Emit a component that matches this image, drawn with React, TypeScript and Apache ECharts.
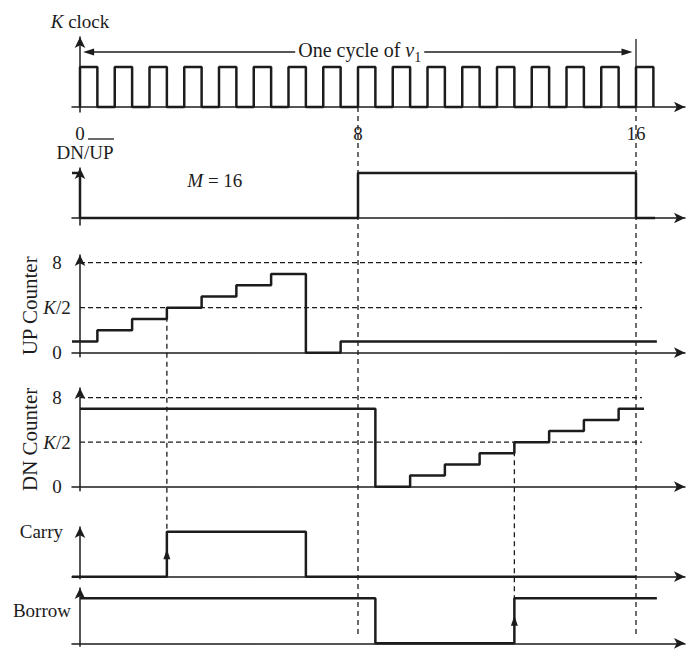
import React, { useEffect, useRef } from 'react';
import * as echarts from 'echarts';

// ---------------- data ----------------
const X_MIN = -0.23;
const X_MAX = 17.41;

const clockTickLabels = [0, 8, 16];
const clockRiseTimes = [0, 1, 2, 3, 4, 5, 6, 7, 8, 9, 10, 11, 12, 13, 14, 15, 16];
const clockFallTimes = [0.5, 1.5, 2.5, 3.5, 4.5, 5.5, 6.5, 7.5, 8.5, 9.5, 10.5, 11.5, 12.5, 13.5, 14.5, 15.5, 16.5];

const dnUpTimes = [-0.23, 0, 8, 16, 16.55];
const dnUpLevels = [1, 0, 1, 0, 0];

const upCounterTimes = [-0.23, 0.5, 1.5, 2.5, 3.5, 4.5, 5.5, 6.5, 7.5, 16.6];
const upCounterLevels = [1, 2, 3, 4, 5, 6, 7, 0, 1, 1];

const dnCounterTimes = [0, 8.5, 9.5, 10.5, 11.5, 12.5, 13.5, 14.5, 15.5, 16.23];
const dnCounterLevels = [7, 0, 1, 2, 3, 4, 5, 6, 7, 7];

const carryTimes = [-0.23, 2.5, 6.5, 16];
const carryLevels = [0, 1, 0, 0];

const borrowTimes = [0, 8.5, 12.5, 16.6];
const borrowLevels = [1, 0, 1, 1];

const counterTickValues = [0, 4, 8]; // 0, K/2, 8
const counterRefLevels = [8, 4];
const counterRefEnd = 16.17;

const cycleMarkTimes = [8, 16];
const carryGuideTime = 2.5;
const borrowGuideTime = 12.5;
const carryEdgeMarker = [2.5, 0.5];
const borrowEdgeMarker = [12.5, 0.5];

// ---------------- layout / style ----------------
const INK = '#1c1c1c';
const FONT = '"Liberation Serif", "Times New Roman", serif';

const panels = [
  { B: 107, U: 40, T: 37, E: 5 },
  { B: 218, U: 45, T: 168, E: 7 },
  { B: 352.7, U: 11.25, T: 255, E: 4 },
  { B: 486.7, U: 11.125, T: 388, E: 4 },
  { B: 576.7, U: 45, T: 527, E: 2 },
  { B: 643.3, U: 45, T: 588, E: 3 },
];

const axisLineStyle = { color: INK, width: 1.5 };

export default function App() {
  const ref = useRef<HTMLDivElement>(null);

  useEffect(() => {
    const el = ref.current!;
    const chart = echarts.init(el, null, { renderer: 'svg' });

    const grids = panels.map((p) => ({
      left: 72,
      right: 9,
      top: p.T,
      height: p.B - p.T + p.E,
      containLabel: false,
      outerBoundsMode: 'none',
    }));

    const xAxes = panels.map((_, i) => ({
      type: 'value',
      gridIndex: i,
      min: X_MIN,
      max: X_MAX,
      axisLine: { show: true, onZero: true, symbol: ['none', 'arrow'], symbolSize: [8, 11], lineStyle: axisLineStyle },
      axisTick: { show: false },
      splitLine: { show: false },
      axisLabel:
        i === 0
          ? { customValues: clockTickLabels, margin: 12, fontFamily: FONT, fontSize: 19, color: INK }
          : { show: false },
    }));

    const nameRich = { k: { fontStyle: 'italic', fontFamily: FONT, fontSize: 19, color: INK } };

    const yAxes = panels.map((p, i) => {
      const base: any = {
        type: 'value',
        gridIndex: i,
        min: -p.E / p.U,
        max: (p.B - p.T) / p.U,
        axisLine: { show: true, onZero: true, symbol: ['none', 'arrow'], symbolSize: [8, 11], lineStyle: axisLineStyle },
        axisTick: { show: false },
        splitLine: { show: false },
        axisLabel: { show: false },
        nameMoveOverlap: false,
      };
      if (i === 2 || i === 3) {
        base.axisLabel = {
          show: true,
          customValues: counterTickValues,
          margin: 15,
          align: 'center',
          fontFamily: FONT,
          fontSize: 19,
          color: INK,
          formatter: (v: number) => (v === 4 ? '{k|K}/2' : String(v)),
          rich: nameRich,
        };
        base.name = i === 2 ? 'UP Counter' : 'DN Counter';
        base.nameLocation = 'middle';
        base.nameGap = 32;
        base.nameTextStyle = { fontFamily: FONT, fontSize: 21, color: INK };
      }
      if (i === 0) {
        base.name = '{k|K} clock';
        base.nameLocation = 'end';
        base.nameGap = 6;
        base.nameTextStyle = { fontFamily: FONT, fontSize: 19, color: INK, rich: nameRich };
      }
      if (i === 1) {
        base.name = 'DN/UP';
        base.nameLocation = 'end';
        base.nameGap = 6;
        base.nameTextStyle = { fontFamily: FONT, fontSize: 19, color: INK, padding: [0, 0, 0, 10] };
      }
      return base;
    });

    const pairs = (times: number[], levels: number[]) => times.map((t, i) => [t, levels[i]]);
    const clockData: number[][] = [[clockRiseTimes[0], 0]];
    clockRiseTimes.forEach((t, i) => {
      clockData.push([t, 1]);
      clockData.push([clockFallTimes[i], 0]);
    });

    const step = (g: number, data: number[][], extra: any = {}) => ({
      type: 'line',
      xAxisIndex: g,
      yAxisIndex: g,
      step: 'end',
      symbol: 'none',
      data,
      lineStyle: { color: INK, width: 2.5 },
      z: 3,
      silent: true,
      ...extra,
    });

    const refLine = (g: number, level: number) => ({
      type: 'line',
      xAxisIndex: g,
      yAxisIndex: g,
      symbol: 'none',
      data: [
        [0, level],
        [counterRefEnd, level],
      ],
      lineStyle: { color: INK, width: 1.3, type: [5, 3] },
      z: 2,
      silent: true,
    });

    const edgeMarker = (coord: number[]) => ({
      symbol: 'triangle',
      symbolSize: [7, 10],
      itemStyle: { color: INK },
      label: { show: false },
      data: [{ coord }],
    });

    const series: any[] = [
      step(0, clockData),
      step(1, pairs(dnUpTimes, dnUpLevels)),
      ...counterRefLevels.map((l) => refLine(2, l)),
      step(2, pairs(upCounterTimes, upCounterLevels)),
      ...counterRefLevels.map((l) => refLine(3, l)),
      step(3, pairs(dnCounterTimes, dnCounterLevels)),
      step(4, pairs(carryTimes, carryLevels), { markPoint: edgeMarker(carryEdgeMarker) }),
      step(5, pairs(borrowTimes, borrowLevels), { markPoint: edgeMarker(borrowEdgeMarker) }),
    ];

    chart.setOption({
      animation: false,
      backgroundColor: '#fff',
      grid: grids,
      xAxis: xAxes,
      yAxis: yAxes,
      series,
    });

    // --- annotations anchored through the axes' own scales ---
    const px = (g: number, x: number, y: number) =>
      chart.convertToPixel({ gridIndex: g } as any, [x, y]) as number[];

    const dashed = (a: number[], b: number[]) => ({
      type: 'line',
      z: 5,
      silent: true,
      shape: { x1: a[0], y1: a[1], x2: b[0], y2: b[1] },
      style: { stroke: INK, lineWidth: 1.3, lineDash: [5, 4] },
    });

    const elements: any[] = [];
    cycleMarkTimes.forEach((t) => {
      elements.push(dashed(px(0, t, 0), px(5, t, 0.14)));
    });
    elements.push(dashed(px(2, carryGuideTime, 4), px(4, carryGuideTime, 1)));
    elements.push(dashed(px(3, borrowGuideTime, 4), px(5, borrowGuideTime, 1)));

    // cycle marker at 16
    const c0 = px(0, 16, 0);
    const c1 = px(0, 16, 1.7);
    elements.push({
      type: 'line',
      z: 5,
      shape: { x1: c0[0], y1: c0[1], x2: c1[0], y2: c1[1] },
      style: { stroke: INK, lineWidth: 1.3 },
    });

    // "One cycle of v1" double arrow
    const aL = px(0, 0.09, 1.375);
    const aR = px(0, 15.9, 1.375);
    elements.push({
      type: 'line',
      z: 5,
      shape: { x1: aL[0] + 4, y1: aL[1], x2: aR[0] - 4, y2: aR[1] },
      style: { stroke: INK, lineWidth: 1.3 },
    });
    elements.push({
      type: 'polygon',
      z: 6,
      shape: { points: [[aL[0], aL[1]], [aL[0] + 11, aL[1] - 3.5], [aL[0] + 11, aL[1] + 3.5]] },
      style: { fill: INK },
    });
    elements.push({
      type: 'polygon',
      z: 6,
      shape: { points: [[aR[0], aR[1]], [aR[0] - 11, aR[1] - 3.5], [aR[0] - 11, aR[1] + 3.5]] },
      style: { fill: INK },
    });
    const mid = px(0, 8.05, 1.375);
    elements.push({
      type: 'text',
      z: 7,
      x: mid[0],
      y: mid[1],
      style: {
        text: '{a|One cycle of }{v|v}{s|1}',
        align: 'center',
        verticalAlign: 'middle',
        backgroundColor: '#fff',
        padding: [0, 3],
        rich: {
          a: { fontFamily: FONT, fontSize: 20, fill: INK, lineHeight: 24, verticalAlign: 'top' },
          v: { fontFamily: FONT, fontSize: 20, fontStyle: 'italic', fill: INK, lineHeight: 24, verticalAlign: 'top' },
          s: { fontFamily: FONT, fontSize: 14, fill: INK, lineHeight: 15, verticalAlign: 'bottom' },
        },
      },
    });

    // M = 16
    const m = px(1, 3.88, 0.84);
    elements.push({
      type: 'text',
      z: 7,
      x: m[0],
      y: m[1],
      style: {
        text: '{m|M} = 16',
        fontFamily: FONT,
        fontSize: 19,
        fill: INK,
        align: 'center',
        verticalAlign: 'middle',
        rich: { m: { fontFamily: FONT, fontSize: 19, fontStyle: 'italic', fill: INK } },
      },
    });

    // overline over "UP" in DN/UP
    const top1 = px(1, 0, (panels[1].B - panels[1].T) / panels[1].U);
    elements.push({
      type: 'line',
      z: 7,
      shape: { x1: top1[0] + 8, y1: top1[1] - 29, x2: top1[0] + 34, y2: top1[1] - 29 },
      style: { stroke: INK, lineWidth: 1.3 },
    });

    // Carry / Borrow labels
    const cy = px(4, 0, 1);
    elements.push({
      type: 'text',
      z: 7,
      x: cy[0] - 17,
      y: cy[1],
      style: { text: 'Carry', fontFamily: FONT, fontSize: 19, fill: INK, align: 'right', verticalAlign: 'middle' },
    });
    const by = px(5, 0, 0.72);
    elements.push({
      type: 'text',
      z: 7,
      x: by[0] - 9,
      y: by[1],
      style: { text: 'Borrow', fontFamily: FONT, fontSize: 19, fill: INK, align: 'right', verticalAlign: 'middle' },
    });

    chart.setOption({ graphic: { elements } });

    return () => chart.dispose();
  }, []);

  return (
    <div
      ref={ref}
      style={{ position: 'absolute', left: 0, top: 0, width: 694, height: 650, background: '#fff' }}
    />
  );
}
